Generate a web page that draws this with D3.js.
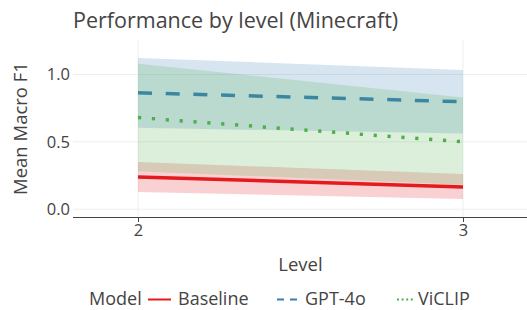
<!DOCTYPE html>
<html>
<head>
<meta charset="utf-8">
<script src="https://cdn.jsdelivr.net/npm/d3@7"></script>
<style>
  html, body { margin: 0; padding: 0; background: #fff; }
  svg { display: block; }
  text { font-family: "Open Sans", Verdana, sans-serif; fill: #444; }
</style>
</head>
<body>
<svg id="chart" width="527" height="310"></svg>
<script>
// ---- data ----
const levels = [2, 3];
const models = ["Baseline", "GPT-4o", "ViCLIP"];
const meanBaseline = [0.239, 0.165];
const lowBaseline  = [0.128, 0.076];
const highBaseline = [0.350, 0.261];
const meanGPT = [0.864, 0.798];
const lowGPT  = [0.604, 0.562];
const highGPT = [1.123, 1.033];
const meanViCLIP = [0.680, 0.500];
const lowViCLIP  = [0.281, 0.182];
const highViCLIP = [1.080, 0.829];
const yTicks = [0, 0.5, 1.0];
const xTicks = [2, 3];

const colors = { "Baseline": "#e41a1c", "GPT-4o": "#377eb8", "ViCLIP": "#4daf4a" };
const dashes = { "Baseline": null, "GPT-4o": "14,13.7", "ViCLIP": "3.2,10.7" };
const seriesData = {
  "Baseline": { mean: meanBaseline, low: lowBaseline, high: highBaseline },
  "GPT-4o":   { mean: meanGPT, low: lowGPT, high: highGPT },
  "ViCLIP":   { mean: meanViCLIP, low: lowViCLIP, high: highViCLIP }
};

const svg = d3.select("#chart");
const L = 73, R = 528, T = 40, B = 217;
const x = d3.scaleLinear().domain([1.8, 3.2]).range([L, R]);
const y = d3.scaleLinear().domain([-0.058, 1.256]).range([B, T]);

// gridlines
svg.append("g").selectAll("line").data(yTicks).join("line")
  .attr("x1", L).attr("x2", R)
  .attr("y1", d => y(d)).attr("y2", d => y(d))
  .attr("stroke", "#eee").attr("stroke-width", 1);
svg.append("g").selectAll("line").data(xTicks).join("line")
  .attr("x1", d => x(d)).attr("x2", d => x(d))
  .attr("y1", T).attr("y2", B)
  .attr("stroke", "#eee").attr("stroke-width", 1);

// series
const plot = svg.append("g");
models.forEach(m => {
  const s = seriesData[m];
  const pts = levels.map((lv, i) => ({ x: lv, mean: s.mean[i], low: s.low[i], high: s.high[i] }));
  const area = d3.area().x(d => x(d.x)).y0(d => y(d.low)).y1(d => y(d.high));
  plot.append("path").datum(pts).attr("d", area)
    .attr("fill", colors[m]).attr("fill-opacity", 0.2);
  const line = d3.line().x(d => x(d.x)).y(d => y(d.mean));
  plot.append("path").datum(pts).attr("d", line)
    .attr("fill", "none").attr("stroke", colors[m]).attr("stroke-width", 3.5)
    .attr("stroke-dasharray", dashes[m]);
});

// x axis
const xAxis = d3.axisBottom(x).tickValues(xTicks).tickFormat(d3.format("d")).tickSize(5).tickPadding(2);
const gx = svg.append("g").attr("transform", `translate(0,${B})`).call(xAxis);
gx.select(".domain").attr("stroke", "#444").attr("d", `M${L},0.5H${R}`);
gx.selectAll(".tick line").attr("stroke", "#444");
gx.selectAll("text").style("font-size", "16.5px").attr("fill", "#444");

// y axis labels
const yAxis = d3.axisLeft(y).tickValues(yTicks).tickFormat(d3.format(".1f")).tickSize(0).tickPadding(3);
const gy = svg.append("g").attr("transform", `translate(${L},0)`).call(yAxis);
gy.select(".domain").remove();
gy.selectAll("text").style("font-size", "16.5px").attr("fill", "#444");

// titles
svg.append("text").attr("x", L).attr("y", 28)
  .style("font-size", "21.5px").text("Performance by level (Minecraft)");
svg.append("text").attr("x", (L + R) / 2).attr("y", 270.5).attr("text-anchor", "middle")
  .style("font-size", "18.5px").text("Level");
svg.append("text").attr("transform", `translate(27,${(T + B) / 2}) rotate(-90)`)
  .attr("text-anchor", "middle").style("font-size", "18.5px").text("Mean Macro F1");

// legend
const lg = svg.append("g").attr("transform", "translate(0,299.5)");
lg.append("text").attr("x", 89).attr("y", 5.8).style("font-size", "18px").text("Model");
const items = [
  { m: "Baseline", x0: 148, w: 23, tx: 178 },
  { m: "GPT-4o", x0: 277, w: 20, tx: 305 },
  { m: "ViCLIP", x0: 397, w: 16, tx: 418 }
];
const legendDash = { "Baseline": null, "GPT-4o": "7,6", "ViCLIP": "2,2.6" };
items.forEach(it => {
  lg.append("line").attr("x1", it.x0).attr("x2", it.x0 + it.w).attr("y1", 0).attr("y2", 0)
    .attr("stroke", colors[it.m]).attr("stroke-width", 2).attr("stroke-dasharray", legendDash[it.m]);
  lg.append("text").attr("x", it.tx).attr("y", 5.8).style("font-size", "18px").text(it.m);
});
</script>
</body>
</html>
